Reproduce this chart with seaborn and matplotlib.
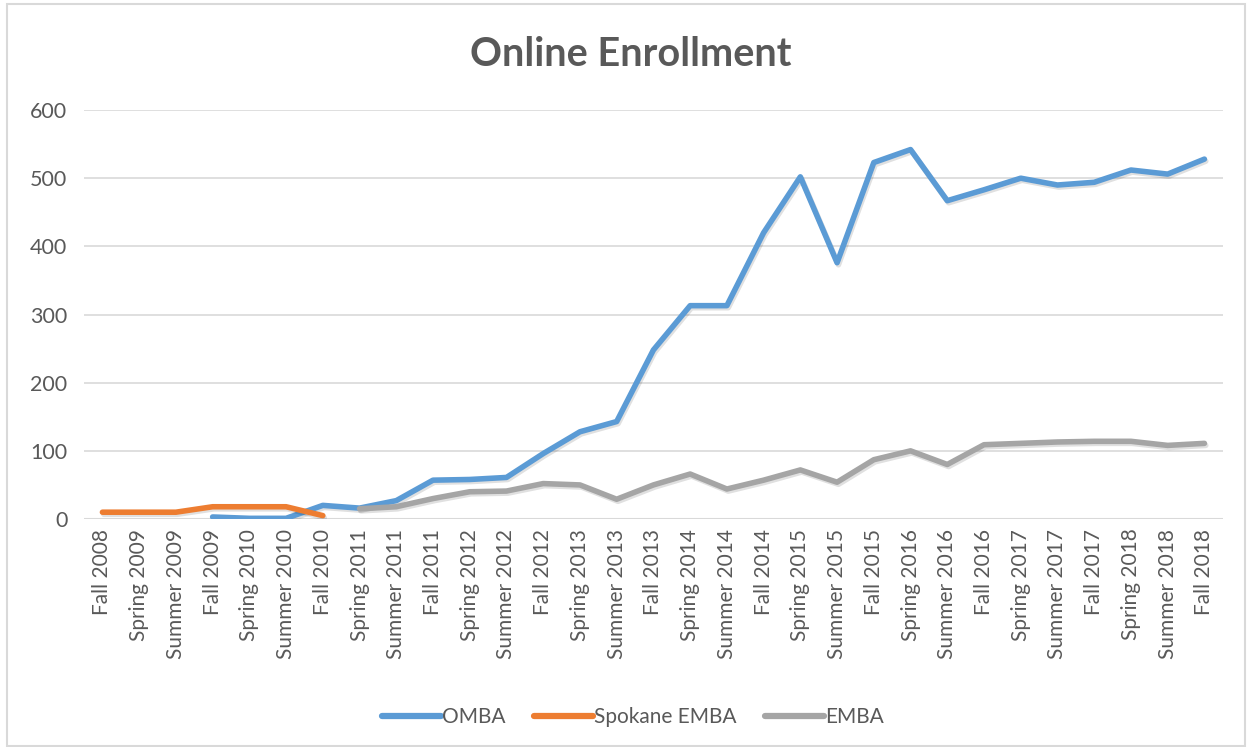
import numpy as np
import pandas as pd
import matplotlib
matplotlib.use("Agg")
import matplotlib.pyplot as plt
import matplotlib.patheffects as pe
from matplotlib.patches import Rectangle
import seaborn as sns

terms = ['Fall 2008', 'Spring 2009', 'Summer 2009', 'Fall 2009', 'Spring 2010',
         'Summer 2010', 'Fall 2010', 'Spring 2011', 'Summer 2011', 'Fall 2011',
         'Spring 2012', 'Summer 2012', 'Fall 2012', 'Spring 2013', 'Summer 2013',
         'Fall 2013', 'Spring 2014', 'Summer 2014', 'Fall 2014', 'Spring 2015',
         'Summer 2015', 'Fall 2015', 'Spring 2016', 'Summer 2016', 'Fall 2016',
         'Spring 2017', 'Summer 2017', 'Fall 2017', 'Spring 2018', 'Summer 2018',
         'Fall 2018']

omba = [np.nan, np.nan, np.nan, 3, 1, 1, 20, 16, 27, 57,
        58, 61, 96, 128, 143, 248, 313, 313, 420, 502,
        376, 523, 542, 467, 483, 500, 490, 494, 512, 506, 528]
spokane = [10, 10, 10, 18, 18, 18, 5] + [np.nan] * 24
emba = [np.nan] * 7 + [15, 18, 30, 40, 41, 52, 50, 29, 50, 66, 44, 57, 72,
                       54, 87, 100, 80, 109, 111, 113, 114, 114, 108, 111]

series_names = ['OMBA', 'Spokane EMBA', 'EMBA']
colors = {'OMBA': '#5B9BD5', 'Spokane EMBA': '#ED7D31', 'EMBA': '#A5A5A5'}

df = pd.DataFrame({'idx': np.arange(len(terms)), 'OMBA': omba,
                   'Spokane EMBA': spokane, 'EMBA': emba})
long_df = df.melt(id_vars='idx', var_name='series', value_name='value').dropna()

sns.set_style('white')
plt.rcParams['font.family'] = ['Lato', 'DejaVu Sans']
text_col = '#595959'

fig = plt.figure(figsize=(12.49, 7.47), dpi=100)
ax = fig.add_axes([0.0673, 0.3052, 0.9117, 0.5475])

sns.lineplot(data=long_df, x='idx', y='value', hue='series', hue_order=series_names,
             palette=colors, linewidth=4, sort=False, ax=ax,
             path_effects=[pe.SimpleLineShadow(offset=(1, -1.5), alpha=0.12),
                           pe.Normal()])
for ln in ax.get_lines():
    ln.set_solid_capstyle('round')
    ln.set_solid_joinstyle('round')

ax.set_xlim(-0.5, len(terms) - 0.5)
ax.set_ylim(0, 600)
ax.set_yticks(range(0, 601, 100))
ax.set_xticks(np.arange(len(terms)))
ax.set_xticklabels(terms, rotation=90, fontsize=15, color=text_col)
ax.tick_params(axis='y', labelsize=15.5, labelcolor=text_col, length=0, pad=12)
ax.tick_params(axis='x', length=0, pad=7)
ax.yaxis.grid(True, color='#D9D9D9', linewidth=1.2)
ax.set_axisbelow(True)
for s in ax.spines.values():
    s.set_visible(False)
ax.axhline(0, color='#D9D9D9', linewidth=1.5, zorder=0)
ax.set_xlabel('')
ax.set_ylabel('')

fig.suptitle('Online Enrollment', fontsize=28.5, fontweight='bold', color=text_col,
             x=0.505, y=0.952)

leg = ax.legend(loc='center', bbox_to_anchor=(0.482, -0.484), ncol=3, frameon=False,
                fontsize=15, handlelength=2.8, columnspacing=1.4, handletextpad=0.05)
for t in leg.get_texts():
    t.set_color(text_col)
for h in leg.legend_handles:
    h.set_linewidth(4.5)
    h.set_solid_capstyle('round')
    h.set_path_effects([])

fig.patches.append(Rectangle((7 / 1249, 1 / 747), 1238 / 1249, 742 / 747,
                             transform=fig.transFigure, fill=False,
                             edgecolor='#D9D9D9', linewidth=1.5))

fig.savefig('out.png', dpi=100)
